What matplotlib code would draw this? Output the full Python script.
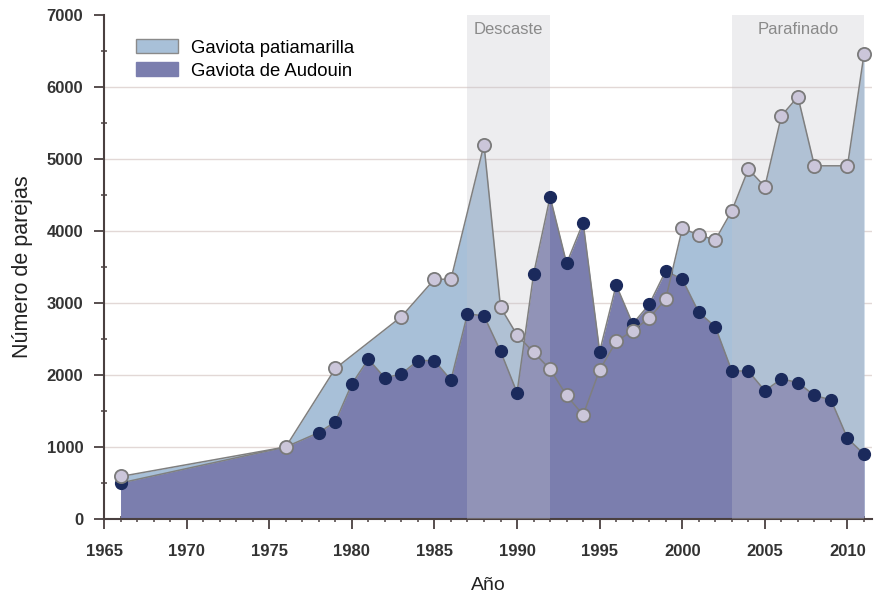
import matplotlib
matplotlib.use("Agg")
import matplotlib.pyplot as plt
from matplotlib.patches import Patch
from matplotlib.ticker import MultipleLocator

plt.rcParams['font.family'] = ['Liberation Sans', 'DejaVu Sans']

# Gaviota patiamarilla (yellow-legged gull)
years_pat = [1966, 1976, 1979, 1983, 1985, 1986, 1988, 1989, 1990, 1991, 1992,
             1993, 1994, 1995, 1996, 1997, 1998, 1999, 2000, 2001, 2002, 2003,
             2004, 2005, 2006, 2007, 2008, 2010, 2011]
pairs_pat = [590, 1000, 2090, 2810, 3330, 3330, 5200, 2940, 2555, 2315, 2080,
             1715, 1445, 2070, 2465, 2615, 2790, 3055, 4035, 3945, 3875, 4280,
             4860, 4615, 5600, 5865, 4905, 4905, 6455]

# Gaviota de Audouin
years_aud = [1966, 1976, 1978, 1979, 1980, 1981, 1982, 1983, 1984, 1985, 1986,
             1987, 1988, 1989, 1990, 1991, 1992, 1993, 1994, 1995, 1996, 1997,
             1998, 1999, 2000, 2001, 2002, 2003, 2004, 2005, 2006, 2007, 2008,
             2009, 2010, 2011]
pairs_aud = [500, 1000, 1200, 1350, 1875, 2220, 1960, 2015, 2200, 2200, 1930,
             2850, 2820, 2330, 1755, 3400, 4475, 3550, 4115, 2325, 3250, 2710,
             2980, 3445, 3330, 2870, 2670, 2055, 2055, 1780, 1945, 1895, 1715,
             1655, 1120, 900]

# shaded periods
periods = [("Descaste", 1987, 1992), ("Parafinado", 2003, 2011)]

c_pat = "#a8c0d8"
c_aud = "#7b7eae"
c_line = "#7f7f7f"
c_axis = "#4a4040"

fig = plt.figure(figsize=(8.77, 5.99), dpi=100)
ax = fig.add_axes([0.1186, 0.1336, 0.876, 0.8414])

ax.fill_between(years_pat, pairs_pat, 0, color=c_pat, lw=0, zorder=1)
ax.fill_between(years_aud, pairs_aud, 0, color=c_aud, lw=0, zorder=2)

for name, x0, x1 in periods:
    ax.axvspan(x0, x1, ymin=0, ymax=1, color="#c4c4cc", alpha=0.3, lw=0, zorder=3)
    ax.text((x0 + x1) / 2, 6800, name, ha="center", va="center",
            fontsize=12, color="#8a8a8a", zorder=6)

ax.plot(years_aud, pairs_aud, color=c_line, lw=1.1, marker="o", ms=8.5,
        mfc="#1b2a5c", mec="#1b2a5c", zorder=4)
ax.plot(years_pat, pairs_pat, color=c_line, lw=1.1, marker="o", ms=9.5,
        mfc="#cbc6da", mec="#7a7a7a", mew=1.3, zorder=5)

ax.set_xlim(1965, 2011.5)
ax.set_ylim(0, 7000)
ax.xaxis.set_major_locator(MultipleLocator(5))
ax.xaxis.set_minor_locator(MultipleLocator(1))
ax.yaxis.set_major_locator(MultipleLocator(1000))
ax.yaxis.set_minor_locator(MultipleLocator(500))

for y in range(1000, 7000, 1000):
    ax.axhline(y, color="#e2d8d6", lw=1, zorder=0)

for s in ["top", "right"]:
    ax.spines[s].set_visible(False)
for s in ["left", "bottom"]:
    ax.spines[s].set_color(c_axis)
    ax.spines[s].set_linewidth(1.5)

ax.tick_params(which="major", direction="out", length=7, width=1.3,
               color=c_axis, labelsize=12, labelcolor="#333333")
ax.tick_params(which="minor", direction="inout", length=5, width=1.1, color=c_axis)
ax.tick_params(axis="x", which="major", pad=11)
ax.tick_params(axis="y", which="major", pad=8)
for lab in ax.get_xticklabels() + ax.get_yticklabels():
    lab.set_fontweight("bold")

ax.set_xlabel("Año", fontsize=14, labelpad=13, color="#222222")
ax.set_ylabel("Número de parejas", fontsize=15.5, labelpad=10, color="#222222")

handles = [Patch(facecolor=c_pat, edgecolor="#8a8a8a", lw=1),
           Patch(facecolor=c_aud, edgecolor=c_aud, lw=1)]
ax.legend(handles, ["Gaviota patiamarilla", "Gaviota de Audouin"],
          loc="upper left", bbox_to_anchor=(0.02, 0.985), frameon=False,
          fontsize=13.3, handlelength=2.3, handleheight=0.8, labelspacing=0.3,
          handletextpad=0.7)

fig.savefig("out.png", dpi=100)
